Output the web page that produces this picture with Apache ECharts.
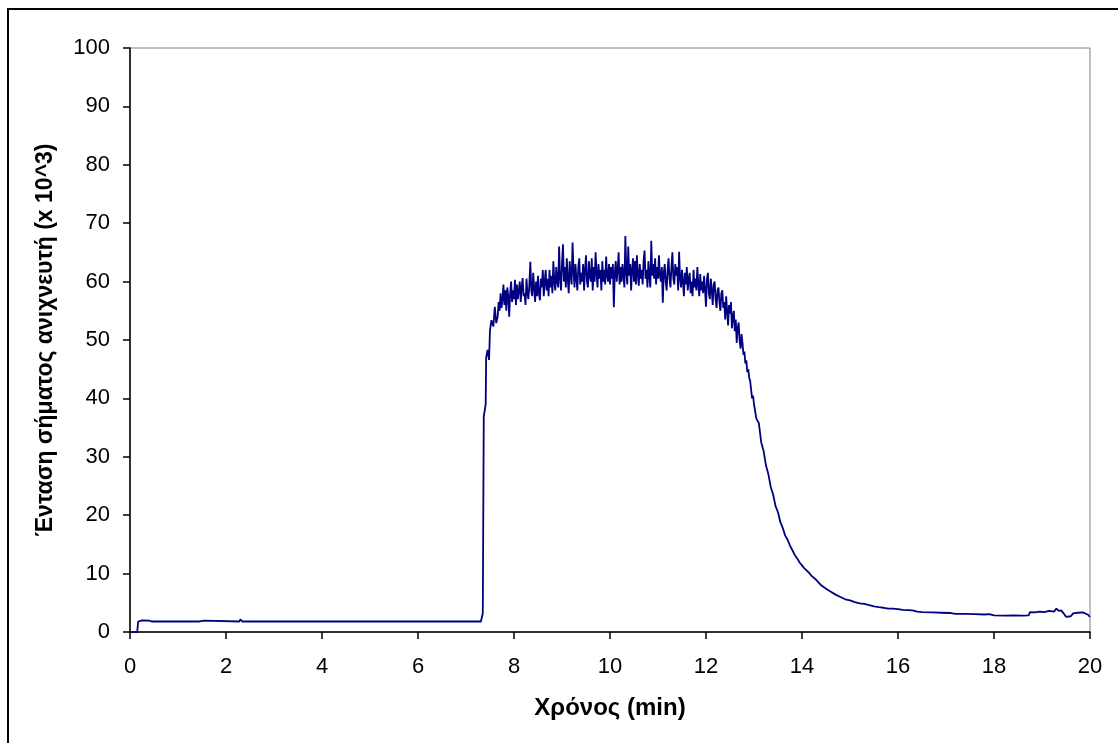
<!DOCTYPE html>
<html>
<head>
<meta charset="utf-8">
<script src="https://cdn.jsdelivr.net/npm/echarts@6/dist/echarts.min.js"></script>
<style>
html,body{margin:0;padding:0;background:#fff;}
#chart{width:1118px;height:743px;}
</style>
</head>
<body>
<div id="chart"></div>
<script>
// Time (min) and detector signal (x 10^3)
var xTicks = [0, 2, 4, 6, 8, 10, 12, 14, 16, 18, 20];
var yTicks = [0, 10, 20, 30, 40, 50, 60, 70, 80, 90, 100];

var baseTime = [0.03, 0.15, 0.17, 0.25, 0.28, 0.40, 0.45, 1.00, 1.02, 1.06, 1.40, 1.42, 1.45, 1.55, 1.58, 2.28, 2.30, 2.34, 3.70, 3.72, 3.75, 7.31];
var baseSignal = [0, 0, 1.8, 2.0, 1.8, 1.95, 1.8, 1.8, 2.1, 1.8, 1.8, 2.0, 1.8, 1.95, 1.8, 1.8, 2.15, 1.8, 1.8, 2.0, 1.8, 1.8];

var riseTime = [7.35, 7.37, 7.41, 7.42, 7.45, 7.48, 7.50, 7.53, 7.57, 7.60, 7.63];
var riseSignal = [3.2, 36.9, 39.0, 47.0, 48.3, 46.6, 51.7, 53.4, 52.3, 55.7, 52.9];

var plateauTime = [
 7.66, 7.68, 7.70, 7.72, 7.74, 7.76, 7.78, 7.80, 7.82, 7.84,
 7.86, 7.88, 7.90, 7.92, 7.94, 7.96, 7.98, 8.00, 8.02, 8.04,
 8.06, 8.08, 8.10, 8.12, 8.14, 8.16, 8.18, 8.20, 8.22, 8.24,
 8.26, 8.28, 8.30, 8.32, 8.34, 8.36, 8.38, 8.40, 8.42, 8.44,
 8.46, 8.48, 8.50, 8.52, 8.54, 8.56, 8.58, 8.60, 8.62, 8.64,
 8.66, 8.68, 8.70, 8.72, 8.74, 8.76, 8.78, 8.80, 8.82, 8.84,
 8.86, 8.88, 8.90, 8.92, 8.94, 8.96, 8.98, 9.00, 9.02, 9.04,
 9.06, 9.08, 9.10, 9.12, 9.14, 9.16, 9.18, 9.20, 9.22, 9.24,
 9.26, 9.28, 9.30, 9.32, 9.34, 9.36, 9.38, 9.40, 9.42, 9.44,
 9.46, 9.48, 9.50, 9.52, 9.54, 9.56, 9.58, 9.60, 9.62, 9.64,
 9.66, 9.68, 9.70, 9.72, 9.74, 9.76, 9.78, 9.80, 9.82, 9.84,
 9.86, 9.88, 9.90, 9.92, 9.94, 9.96, 9.98, 10.00, 10.02, 10.04,
 10.06, 10.08, 10.10, 10.12, 10.14, 10.16, 10.18, 10.20, 10.22, 10.24,
 10.26, 10.28, 10.30, 10.32, 10.34, 10.36, 10.38, 10.40, 10.42, 10.44,
 10.46, 10.48, 10.50, 10.52, 10.54, 10.56, 10.58, 10.60, 10.62, 10.64,
 10.66, 10.68, 10.70, 10.72, 10.74, 10.76, 10.78, 10.80, 10.82, 10.84,
 10.86, 10.88, 10.90, 10.92, 10.94, 10.96, 10.98, 11.00, 11.02, 11.04,
 11.06, 11.08, 11.10, 11.12, 11.14, 11.16, 11.18, 11.20, 11.22, 11.24,
 11.26, 11.28, 11.30, 11.32, 11.34, 11.36, 11.38, 11.40, 11.42, 11.44,
 11.46, 11.48, 11.50, 11.52, 11.54, 11.56, 11.58, 11.60, 11.62, 11.64,
 11.66, 11.68, 11.70, 11.72, 11.74, 11.76, 11.78, 11.80, 11.82, 11.84,
 11.86, 11.88, 11.90, 11.92, 11.94, 11.96, 11.98, 12.00, 12.02, 12.04,
 12.06, 12.08, 12.10, 12.12, 12.14, 12.16, 12.18, 12.20, 12.22, 12.24,
 12.26, 12.28, 12.30, 12.32, 12.34, 12.36, 12.38, 12.40, 12.42, 12.44,
 12.46, 12.48, 12.50, 12.52, 12.54, 12.56, 12.58, 12.60, 12.62, 12.64,
 12.66, 12.68, 12.70, 12.72, 12.74, 12.76, 12.78, 12.80, 12.82, 12.84,
 12.86, 12.88, 12.90, 12.92, 12.94, 12.96, 12.98, 13.00
];
var plateauSignal = [
 54.0, 56.5, 55.0, 58.0, 55.5, 57.0, 59.5, 56.0, 58.5, 55.0,
 59.0, 57.5, 54.0, 58.0, 60.0, 56.5, 58.5, 57.0, 60.3, 56.0,
 59.5, 57.0, 58.5, 60.0, 56.5, 59.0, 60.6, 57.5, 58.0, 56.0,
 60.5, 58.0, 57.0, 59.5, 63.4, 58.5, 57.5, 61.5, 59.0, 56.5,
 60.0, 57.5, 61.0, 58.0, 56.8, 60.5, 59.0, 62.0, 57.5, 60.0,
 62.0, 58.5, 60.5, 57.5, 62.0, 59.0, 61.0, 58.0, 63.5, 60.0,
 58.5, 62.5, 60.0, 59.0, 66.0, 60.5, 58.5, 63.0, 66.4, 60.0,
 62.5, 59.0, 64.0, 60.5, 58.0, 63.5, 61.0, 59.5, 66.7, 62.0,
 59.0, 63.0, 60.5, 58.5, 62.5, 64.0, 59.5, 61.5, 60.0, 63.0,
 58.5, 62.0, 64.5, 60.0, 59.0, 63.5, 61.0, 60.0, 64.0, 58.5,
 62.5, 60.0, 65.0, 61.5, 59.0, 63.0, 60.5, 62.0, 58.5, 63.5,
 60.0, 62.0, 59.5, 64.3, 61.0, 60.0, 63.0, 59.5, 62.5, 60.5,
 63.0, 55.6, 61.5, 63.5, 60.0, 62.0, 65.0, 59.5, 62.5, 60.0,
 63.0, 61.0, 59.0, 67.8, 61.5, 59.5, 66.0, 61.0, 63.0, 58.5,
 62.0, 64.0, 60.0, 63.5, 59.5, 64.5, 61.0, 59.3, 63.0, 60.5,
 62.0, 59.5, 63.5, 65.3, 60.5, 62.0, 59.0, 63.5, 61.0, 59.0,
 67.0, 61.0, 63.0, 60.5, 64.0, 59.5, 62.5, 60.5, 64.5, 61.0,
 60.0, 62.5, 56.4, 61.5, 63.0, 60.0, 58.5, 62.0, 64.0, 60.5,
 59.0, 62.5, 65.0, 60.5, 59.5, 63.0, 61.0, 62.5, 58.5, 65.1,
 60.5, 59.0, 62.0, 60.0, 57.5, 61.5, 59.5, 62.5, 58.5, 60.5,
 61.5, 58.0, 60.0, 57.5, 62.0, 59.0, 60.5, 58.5, 62.5, 59.5,
 57.5, 61.3, 58.5, 60.0, 58.0, 61.0, 58.5, 55.7, 60.5, 61.5,
 58.0, 57.0, 60.5, 58.5, 56.0, 59.5, 60.0, 57.0, 55.5, 58.5,
 59.0, 56.5, 55.0, 58.0, 58.5, 55.5, 56.5, 53.5, 57.5, 55.0,
 52.5, 56.0, 54.5, 56.5, 52.0, 54.0, 55.0, 51.5, 53.5, 49.5,
 52.0, 53.0, 50.0, 48.5, 51.0, 49.5, 47.5, 48.0, 46.0, 46.5,
 44.5, 45.0, 43.5, 43.0, 41.5, 40.0, 40.5, 39.0
];

var decayTime = [
 13.05, 13.10, 13.15, 13.20, 13.25, 13.30, 13.35, 13.40, 13.45, 13.50, 13.55, 13.60, 13.65, 13.70, 13.75, 13.80, 13.85, 13.90, 13.95, 14.00,
 14.05, 14.10, 14.15, 14.20, 14.30, 14.40, 14.50, 14.60, 14.70, 14.80, 14.90, 15.00, 15.10, 15.20, 15.30, 15.40, 15.50, 15.60, 15.70, 15.80,
 15.90, 16.00, 16.10, 16.20, 16.30, 16.40, 16.50, 16.70, 16.90, 17.10, 17.20, 17.40, 17.60, 17.80, 17.90, 18.00, 18.20, 18.40, 18.60, 18.72,
 18.75, 18.85, 18.95, 19.05, 19.15, 19.25, 19.30, 19.35, 19.40, 19.45, 19.50, 19.60, 19.65, 19.75, 19.85, 19.95, 20.00
];
var decaySignal = [
 36.5, 35.8, 32.5, 31.0, 28.5, 27.0, 24.8, 23.5, 21.5, 20.5, 18.8, 17.8, 16.5, 15.8, 14.8, 14.0, 13.2, 12.6, 11.9, 11.4,
 10.9, 10.5, 10.1, 9.6, 8.9, 8.0, 7.4, 6.9, 6.4, 6.0, 5.6, 5.4, 5.1, 4.9, 4.8, 4.6, 4.4, 4.25, 4.15, 4.0,
 4.0, 3.9, 3.8, 3.75, 3.7, 3.5, 3.4, 3.35, 3.3, 3.25, 3.1, 3.1, 3.05, 3.0, 3.05, 2.85, 2.8, 2.85, 2.8, 2.85,
 3.4, 3.35, 3.5, 3.4, 3.6, 3.5, 4.0, 3.6, 3.7, 3.2, 2.6, 2.7, 3.2, 3.3, 3.35, 3.0, 2.6
];

var xName = 'Χρόνος (min)';
var yName = 'Ένταση σήματος ανιχνευτή (x 10^3)';

function pairs(t, v) { return t.map(function (x, i) { return [x, v[i]]; }); }
var seriesData = [].concat(
  pairs(baseTime, baseSignal),
  pairs(riseTime, riseSignal),
  pairs(plateauTime, plateauSignal),
  pairs(decayTime, decaySignal)
);

var chart = echarts.init(document.getElementById('chart'), null, {renderer: 'canvas'});
var font = 'Arial, "Liberation Sans", sans-serif';
chart.setOption({
  backgroundColor: '#ffffff',
  animation: false,
  graphic: [{
    type: 'rect',
    shape: {x: 8, y: 9, width: 1200, height: 800},
    style: {fill: 'none', stroke: '#000', lineWidth: 2},
    silent: true, z: 100
  }],
  grid: {
    left: 130, right: 28, top: 48, bottom: 111,
    show: true, borderColor: '#808080', borderWidth: 1, backgroundColor: '#fff'
  },
  xAxis: {
    type: 'value', min: xTicks[0], max: xTicks[xTicks.length - 1], interval: 2,
    name: xName, nameLocation: 'middle', nameGap: 64,
    nameTextStyle: {fontFamily: font, fontSize: 24, fontWeight: 'bold', color: '#000'},
    axisLine: {show: true, onZero: false, lineStyle: {color: '#000', width: 1.5}},
    axisTick: {show: true, inside: false, length: 7, lineStyle: {color: '#000', width: 1.5}},
    axisLabel: {fontFamily: font, fontSize: 22, color: '#000', margin: 24},
    splitLine: {show: false}
  },
  yAxis: {
    type: 'value', min: yTicks[0], max: yTicks[yTicks.length - 1], interval: 10,
    name: yName, nameLocation: 'middle', nameGap: 73, nameRotate: 90,
    nameTextStyle: {fontFamily: font, fontSize: 23, fontWeight: 'bold', color: '#000'},
    axisLine: {show: true, lineStyle: {color: '#000', width: 1.5}},
    axisTick: {show: true, inside: false, length: 7, lineStyle: {color: '#000', width: 1.5}},
    axisLabel: {fontFamily: font, fontSize: 22, color: '#000', margin: 20},
    splitLine: {show: false}
  },
  series: [{
    type: 'line',
    data: seriesData,
    showSymbol: false,
    symbol: 'none',
    sampling: null,
    lineStyle: {color: '#000080', width: 1.8},
    z: 5
  }]
});
</script>
</body>
</html>
